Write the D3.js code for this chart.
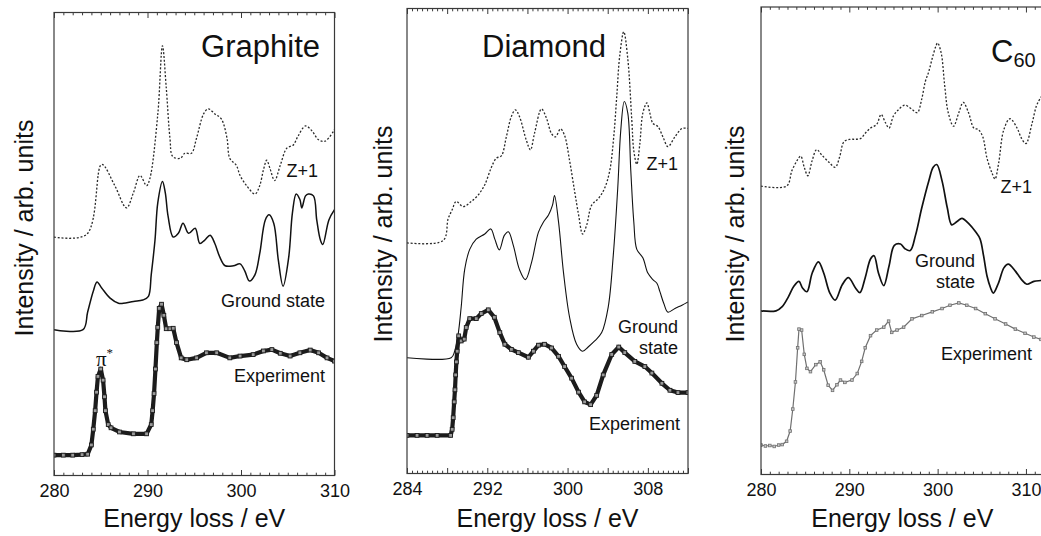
<!DOCTYPE html>
<html>
<head>
<meta charset="utf-8">
<script src="https://cdn.jsdelivr.net/npm/d3@7"></script>
<style>
  html, body { margin: 0; padding: 0; background: #fff; }
  svg { display: block; font-family: "Liberation Sans", Arial, Helvetica, sans-serif; }
</style>
</head>
<body>
<svg id="chart" width="1041" height="536"></svg>
<script>
// C K-edge ELNES spectra: [energy loss (eV), intensity (arb. units, offset per curve)]

// ---- Graphite ----
const graphiteZ1 = [[280,51.5],[283.5,52.1],[285.1,67.2],[286.5,62.6],[287.75,57.8],[288.5,61.1],[289.2,64.8],[289.9,62.6],[290.25,64.1],[291.1,78.0],[291.6,92.8],[292.0,83.9],[292.4,72.9],[292.7,68.9],[293.5,68.5],[294.0,69.6],[294.7,69.6],[295.25,72.9],[296.0,78.1],[296.5,79.2],[297.2,78.1],[297.9,77.0],[298.5,72.9],[298.8,68.5],[299.5,67.0],[299.9,64.8],[300.6,62.6],[301.5,60.8],[302.0,62.6],[302.4,66.0],[302.75,68.1],[303.1,66.3],[303.6,63.7],[304.2,67.0],[304.9,70.7],[305.6,71.4],[306.1,73.3],[306.9,75.5],[307.6,74.4],[308.3,72.5],[309.0,72.2],[310.0,74.7]];
const graphiteGround = [[280,31.5],[283.1,31.5],[283.6,35.3],[284.2,39.8],[284.6,41.8],[285.1,40.5],[286.0,38.3],[286.9,37.2],[287.4,37.2],[288.5,37.6],[289.5,37.9],[290.1,38.7],[290.4,43.4],[290.8,50.8],[291.1,58.9],[291.6,63.5],[291.9,61.1],[292.2,56.0],[292.75,51.5],[293.3,52.3],[293.8,54.5],[294.4,52.3],[295.1,53.4],[295.6,50.1],[296.1,50.8],[296.7,51.9],[297.2,50.1],[297.75,47.1],[298.3,45.3],[299.2,45.3],[299.9,45.7],[300.4,44.2],[300.9,42.0],[301.5,43.4],[302.0,47.9],[302.6,55.2],[303.0,56.3],[303.5,54.5],[304.0,46.4],[304.5,40.9],[305.1,47.1],[305.5,56.7],[305.9,60.8],[306.3,59.6],[306.5,57.8],[306.9,60.4],[307.2,60.8],[307.75,60.4],[308.1,55.2],[308.5,50.8],[308.75,49.9],[309.4,55.2],[310.0,57.4]];
const graphiteExp = [[280,4.4],[281,4.4],[282,4.4],[283,4.5],[283.6,4.6],[284.0,6.6],[284.2,10.0],[284.4,14.0],[284.55,18.0],[284.7,21.4],[285.0,23.0],[285.25,20.6],[285.4,17.0],[285.5,14.0],[285.8,11.0],[286.1,10.3],[287.0,9.4],[288.5,9.0],[289.9,9.0],[290.4,11.0],[290.55,14.0],[290.7,17.7],[290.85,23.0],[291.0,28.7],[291.1,32.0],[291.25,36.1],[291.5,37.0],[291.75,34.6],[292.0,31.7],[292.4,31.7],[292.75,31.8],[293.1,28.7],[293.6,25.4],[294.2,25.0],[295.25,25.4],[296.3,26.5],[297.4,26.5],[298.8,25.4],[299.9,25.8],[301.3,26.1],[302.4,26.9],[303.3,27.2],[304.2,26.4],[305.25,25.8],[306.3,26.5],[307.4,27.1],[308.3,26.5],[309.2,25.4],[310.0,24.7]];

// ---- Diamond ----
const diamondZ1 = [[284,49.6],[287.6,50.1],[288.1,54.8],[288.5,56.7],[288.9,58.5],[289.6,57.4],[290.4,58.5],[291.1,59.9],[291.75,62.1],[292.4,65.8],[292.9,67.8],[293.4,68.3],[293.9,72.4],[294.4,76.8],[294.8,78.2],[295.2,76.8],[295.9,71.6],[296.3,69.6],[296.7,73.1],[297.4,78.4],[297.9,76.4],[298.4,73.1],[298.8,72.4],[299.3,74.1],[299.7,72.7],[300.2,67.3],[300.7,60.7],[301.1,55.6],[301.5,51.5],[301.9,53.4],[302.4,57.7],[303.1,59.2],[303.7,61.4],[304.2,65.1],[304.6,72.4],[304.9,81.1],[305.2,89.9],[305.6,95.0],[306.0,89.2],[306.4,76.0],[306.6,69.4],[306.9,66.5],[307.2,70.9],[307.5,77.5],[307.9,79.7],[308.2,77.5],[308.5,75.3],[309.0,74.6],[309.5,72.4],[310.0,70.3],[310.7,72.4],[311.4,74.2],[312.0,74.2]];
const diamondGround = [[284,24.9],[288.4,24.9],[288.75,26.3],[289.1,30.0],[289.4,35.8],[289.75,43.9],[290.25,48.2],[290.9,50.4],[291.75,51.5],[292.35,52.6],[292.75,50.4],[293.2,48.1],[293.7,51.2],[294.1,52.0],[294.6,49.0],[295.2,43.9],[295.8,41.7],[296.4,45.3],[297.1,51.9],[297.6,54.1],[298.1,55.6],[298.5,57.7],[298.7,59.8],[299.1,54.1],[299.6,43.1],[300.2,33.6],[300.9,27.8],[301.5,26.3],[302.05,27.2],[302.7,28.5],[303.4,30.3],[304.05,35.8],[304.55,46.8],[305.0,61.4],[305.3,73.8],[305.65,80.0],[306.0,77.5],[306.3,65.1],[306.6,54.1],[306.9,48.2],[307.5,46.4],[308.0,43.1],[308.5,41.7],[308.9,40.9],[309.2,39.1],[309.6,36.5],[310.0,34.7],[310.7,35.5],[311.4,36.2],[312.0,36.9]];
const diamondExp = [[284,8.2],[285,8.2],[286,8.2],[287,8.2],[288.35,8.2],[288.5,9.5],[288.6,12.0],[288.7,15.4],[288.78,18.0],[288.85,21.2],[288.92,24.0],[289.0,26.3],[289.15,29.6],[289.4,28.5],[289.7,28.9],[289.9,31.4],[290.25,33.3],[290.9,33.3],[291.4,34.4],[292.1,35.2],[292.7,33.6],[293.25,30.3],[293.75,27.8],[294.4,26.7],[295.1,26.0],[296.1,25.0],[296.6,26.3],[297.1,27.6],[297.7,27.8],[298.4,27.0],[299.1,25.2],[299.7,23.0],[300.4,20.5],[301.1,17.5],[301.7,15.4],[302.3,14.8],[302.9,16.8],[303.55,21.2],[304.4,25.6],[305.1,27.2],[305.7,26.0],[306.7,24.1],[307.7,23.0],[308.4,21.6],[309.4,19.4],[310.2,17.9],[311.0,17.4],[312.0,17.4]];

// ---- C60 ----
const c60Z1 = [[280,61.7],[282.9,61.7],[283.5,65.0],[284.1,67.2],[284.5,68.1],[284.9,65.7],[285.3,63.9],[285.8,67.2],[286.3,69.5],[286.9,68.3],[287.7,66.8],[288.4,65.7],[288.9,67.9],[289.4,71.2],[290.1,71.7],[290.7,71.7],[291.3,71.9],[291.8,73.0],[292.4,74.1],[293.1,74.9],[293.6,77.0],[294.1,75.2],[294.5,74.1],[295.0,76.7],[295.6,78.1],[296.3,79.0],[297.1,78.1],[297.7,77.4],[298.2,80.3],[298.6,84.0],[299.0,86.2],[299.4,89.1],[299.8,91.6],[300.0,92.3],[300.4,90.2],[300.8,83.2],[301.2,77.4],[301.8,74.5],[302.4,77.4],[302.9,79.6],[303.5,77.4],[304.1,74.1],[304.6,73.8],[305.1,72.3],[305.6,67.6],[306.2,64.3],[306.5,63.2],[306.9,66.5],[307.5,73.8],[308.2,76.1],[309.0,74.1],[309.5,71.9],[310.0,70.8],[310.7,75.2],[311.2,78.9],[311.7,80.7],[312.0,81.5]];
const c60Ground = [[280,35.0],[281.7,35.0],[282.4,35.9],[283.1,38.0],[283.7,40.2],[284.3,41.3],[284.7,39.9],[285.2,39.1],[285.8,43.1],[286.5,45.5],[287.1,43.1],[287.8,38.8],[288.4,37.3],[289.2,40.6],[289.9,42.1],[290.7,39.9],[291.2,38.9],[291.8,42.1],[292.4,46.1],[292.8,46.8],[293.3,43.1],[293.9,40.4],[294.5,44.6],[295.1,49.0],[295.8,49.3],[296.3,48.3],[296.9,47.9],[297.5,51.2],[298.2,57.0],[299.0,62.8],[299.5,65.7],[299.9,66.3],[300.5,62.8],[301.1,57.0],[301.6,53.4],[302.2,54.1],[302.75,54.8],[303.5,53.7],[304.3,51.9],[304.8,50.4],[305.2,46.8],[305.6,42.4],[306.0,39.9],[306.3,38.8],[306.9,41.0],[307.5,44.2],[308.0,45.0],[308.8,43.5],[309.5,41.7],[310.1,40.7],[310.9,41.3],[311.7,41.5],[312.0,41.6]];
const c60Exp = [[280,6.3],[280.5,6.1],[281,6.2],[281.5,6.0],[282,6.3],[282.4,6.4],[282.9,7.1],[283.3,9.3],[283.6,14.0],[283.9,19.8],[284.15,27.1],[284.3,31.1],[284.6,30.9],[284.9,25.7],[285.2,22.7],[285.6,22.0],[286.2,23.5],[286.7,24.1],[287.1,22.4],[287.6,19.1],[288.1,18.0],[288.6,19.2],[289.0,20.2],[289.5,19.7],[290.3,20.2],[290.9,21.6],[291.4,24.2],[291.8,27.1],[292.4,29.7],[293.1,30.9],[293.9,31.5],[294.45,32.8],[294.8,30.4],[295.4,30.9],[296.15,31.5],[297.1,33.3],[298.2,34.0],[299.4,34.8],[300.5,35.5],[301.4,36.2],[302.4,36.7],[303.3,36.2],[304.3,35.5],[305.4,34.4],[306.5,33.3],[307.7,32.2],[308.8,31.1],[309.9,30.2],[310.9,29.4],[311.7,28.9]];

// Axis ticks
const graphiteTickLabels = [280, 290, 300, 310];
const diamondTickLabels = [284, 292, 300, 308];
const c60TickLabels = [280, 290, 300, 310];

const svg = d3.select("#chart");

const panels = [
  {
    id: "graphite", left: 54, right: 334.5, top: 12.5, bottom: 475.5,
    domain: [280, 310], minorStep: 1, majorStep: 10, labels: graphiteTickLabels,
    yTitleGap: 21, yTitleCenter: 228,
    series: [
      { data: graphiteZ1, kind: "dotted" },
      { data: graphiteGround, kind: "solid" },
      { data: graphiteExp, kind: "expDark" }
    ]
  },
  {
    id: "diamond", left: 407, right: 688, top: 8.5, bottom: 473.5,
    domain: [284, 312], minorStep: 0.5, majorStep: 4, labels: diamondTickLabels,
    yTitleGap: 15.5, yTitleCenter: 234,
    series: [
      { data: diamondZ1, kind: "dotted" },
      { data: diamondGround, kind: "solidThin" },
      { data: diamondExp, kind: "expDark" }
    ]
  },
  {
    id: "c60", left: 761, right: 1043.6, top: 7, bottom: 474.5,
    domain: [280, 312], minorStep: 1, majorStep: 10, labels: c60TickLabels,
    yTitleGap: 17.5, yTitleCenter: 234,
    series: [
      { data: c60Z1, kind: "dotted" },
      { data: c60Ground, kind: "solidBold" },
      { data: c60Exp, kind: "expGrey" }
    ]
  }
];

const frameColor = "#3a3a3a";

panels.forEach(p => {
  const x = d3.scaleLinear().domain(p.domain).range([p.left, p.right]);
  const y = d3.scaleLinear().domain([0, 100]).range([p.bottom, p.top]);
  const g = svg.append("g").attr("class", "panel-" + p.id);

  g.append("clipPath").attr("id", "clip-" + p.id)
    .append("rect")
    .attr("x", p.left).attr("y", p.top)
    .attr("width", p.right - p.left).attr("height", p.bottom - p.top);

  const plot = g.append("g").attr("clip-path", `url(#clip-${p.id})`);

  // tick positions
  const n = Math.round((p.domain[1] - p.domain[0]) / p.minorStep);
  const allTicks = d3.range(n + 1).map(i => p.domain[0] + i * p.minorStep);
  const isMajor = v => Math.abs((v - p.domain[0]) / p.majorStep - Math.round((v - p.domain[0]) / p.majorStep)) < 1e-6;
  const minorTicks = allTicks.filter(v => !isMajor(v));
  const majorTicks = allTicks.filter(isMajor);

  // curves
  p.series.forEach(s => {
    const smooth = s.kind.startsWith("exp") ? d3.curveLinear : d3.curveCatmullRom.alpha(0.5);
    const line = d3.line().x(d => x(d[0])).y(d => y(d[1])).curve(smooth);
    const path = plot.append("path").datum(s.data).attr("d", line).attr("fill", "none");
    if (s.kind === "dotted") {
      path.attr("stroke", "#2a2a2a").attr("stroke-width", 1.3).attr("stroke-dasharray", "2,1.8");
    } else if (s.kind === "solid") {
      path.attr("stroke", "#111").attr("stroke-width", 1.5);
    } else if (s.kind === "solidThin") {
      path.attr("stroke", "#111").attr("stroke-width", 1.1);
    } else if (s.kind === "solidBold") {
      path.attr("stroke", "#111").attr("stroke-width", 1.7);
    } else if (s.kind === "expDark") {
      path.attr("stroke", "#1c1c1c").attr("stroke-width", 4.2).attr("stroke-linejoin", "round");
      plot.append("g").selectAll("rect").data(s.data).join("rect")
        .attr("x", d => x(d[0]) - 1.9).attr("y", d => y(d[1]) - 1.9)
        .attr("width", 3.8).attr("height", 3.8)
        .attr("fill", "#9a9a9a").attr("stroke", "#1c1c1c").attr("stroke-width", 0.9);
    } else if (s.kind === "expGrey") {
      path.attr("stroke", "#707070").attr("stroke-width", 1.2);
      plot.append("g").selectAll("rect").data(s.data).join("rect")
        .attr("x", d => x(d[0]) - 1.3).attr("y", d => y(d[1]) - 1.3)
        .attr("width", 2.6).attr("height", 2.6)
        .attr("fill", "#c8c8c8").attr("stroke", "#707070").attr("stroke-width", 0.8);
    }
  });

  // frame
  g.append("rect")
    .attr("x", p.left).attr("y", p.top)
    .attr("width", p.right - p.left).attr("height", p.bottom - p.top)
    .attr("fill", "none").attr("stroke", frameColor).attr("stroke-width", 1.2);

  // inward ticks, bottom and top
  const tickStyle = sel => {
    sel.select(".domain").remove();
    sel.selectAll(".tick line").attr("stroke", frameColor).attr("stroke-width", 1);
  };
  g.append("g").attr("transform", `translate(0,${p.bottom})`)
    .call(d3.axisBottom(x).tickValues(minorTicks).tickSize(-2.8).tickFormat(""))
    .call(tickStyle);
  g.append("g").attr("transform", `translate(0,${p.top})`)
    .call(d3.axisTop(x).tickValues(minorTicks).tickSize(-2.8).tickFormat(""))
    .call(tickStyle);
  g.append("g").attr("transform", `translate(0,${p.bottom})`)
    .call(d3.axisBottom(x).tickValues(majorTicks).tickSize(-5.5).tickFormat(""))
    .call(tickStyle);
  g.append("g").attr("transform", `translate(0,${p.top})`)
    .call(d3.axisTop(x).tickValues(majorTicks).tickSize(-5.5).tickFormat(""))
    .call(tickStyle);

  // tick labels
  const lab = g.append("g").attr("transform", `translate(0,${p.bottom})`)
    .call(d3.axisBottom(x).tickValues(p.labels).tickSize(0).tickPadding(9).tickFormat(d3.format("d")));
  lab.select(".domain").remove();
  lab.selectAll(".tick line").remove();
  lab.selectAll("text").attr("font-size", 18).attr("fill", "#111")
    .attr("font-family", "\"Liberation Sans\", Arial, sans-serif");

  // axis titles
  g.append("text")
    .attr("x", (p.left + p.right) / 2)
    .attr("y", 527)
    .attr("text-anchor", "middle")
    .attr("font-size", 25).attr("fill", "#111")
    .text("Energy loss / eV");

  g.append("text")
    .attr("transform", `translate(${p.left - p.yTitleGap},${p.yTitleCenter}) rotate(-90)`)
    .attr("text-anchor", "middle")
    .attr("font-size", 25).attr("fill", "#111")
    .text("Intensity / arb. units");
});

// Panel titles and curve labels
const ann = svg.append("g").attr("fill", "#111");
ann.append("text").attr("x", 320).attr("y", 57).attr("text-anchor", "end")
  .attr("font-size", 31).text("Graphite");
ann.append("text").attr("x", 482).attr("y", 57).attr("text-anchor", "start")
  .attr("font-size", 31).text("Diamond");
const c60Title = ann.append("text").attr("x", 991).attr("y", 62).attr("font-size", 31);
c60Title.append("tspan").text("C");
c60Title.append("tspan").attr("font-size", 20).attr("dy", 5).text("60");

const labelSize = 18;
const curveLabels = [
  { text: "Z+1", x: 318, y: 177 },
  { text: "Ground state", x: 325, y: 307 },
  { text: "Experiment", x: 325, y: 382 },
  { text: "Z+1", x: 678, y: 170 },
  { text: "Ground", x: 678, y: 333 },
  { text: "state", x: 678, y: 354 },
  { text: "Experiment", x: 680, y: 430 },
  { text: "Z+1", x: 1032, y: 193 },
  { text: "Ground", x: 975, y: 267 },
  { text: "state", x: 975, y: 288 },
  { text: "Experiment", x: 1032, y: 360 }
];
ann.selectAll("text.curve-label").data(curveLabels).join("text")
  .attr("class", "curve-label")
  .attr("x", d => d.x).attr("y", d => d.y)
  .attr("text-anchor", "end")
  .attr("font-size", labelSize)
  .text(d => d.text);

// pi* peak marker on the graphite experiment curve
const piLabel = ann.append("text").attr("x", 96).attr("y", 366)
  .attr("font-family", "\"Liberation Serif\", \"Times New Roman\", serif").attr("font-size", 21);
piLabel.append("tspan").text("π");
piLabel.append("tspan").attr("font-size", 13).attr("dy", -9).text("*");
</script>
</body>
</html>
